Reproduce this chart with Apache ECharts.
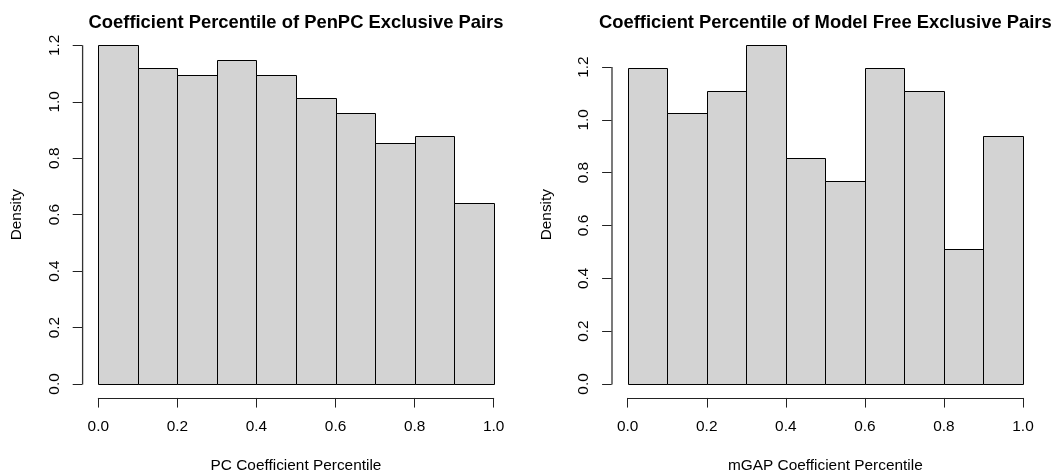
<!DOCTYPE html>
<html>
<head>
<meta charset="utf-8">
<script src="https://cdn.jsdelivr.net/npm/echarts@6/dist/echarts.min.js"></script>
<style>
html,body{margin:0;padding:0;background:#fff;}
#chart{width:1060px;height:473px;}
</style>
</head>
<body>
<div id="chart"></div>
<script>
// ---- data ----
const binEdges = [0.0, 0.1, 0.2, 0.3, 0.4, 0.5, 0.6, 0.7, 0.8, 0.9, 1.0];
const penpcDensity = [1.2, 1.12, 1.0933, 1.1467, 1.0933, 1.0133, 0.96, 0.8533, 0.88, 0.64];
const modelFreeDensity = [1.1966, 1.0256, 1.1111, 1.2821, 0.8547, 0.7692, 1.1966, 1.1111, 0.5128, 0.9402];
const xTicks = [0.0, 0.2, 0.4, 0.6, 0.8, 1.0];
const yTicks = [0.0, 0.2, 0.4, 0.6, 0.8, 1.0, 1.2];
const titles = ['Coefficient Percentile of PenPC Exclusive Pairs', 'Coefficient Percentile of Model Free Exclusive Pairs'];
const xLabels = ['PC Coefficient Percentile', 'mGAP Coefficient Percentile'];
const yLabel = 'Density';

// ---- layout ----
const W = 1060, H = 473;
const FONT = '"Liberation Sans", Arial, Helvetica, sans-serif';
const AXIS_COLOR = '#222222';
const plotTop = 31.8, plotBottom = 397.5;
const panels = [
  { x0: 98.3, x1: 493.7, plotLeft: 82.5, data: penpcDensity },
  { x0: 627.7, x1: 1023.0, plotLeft: 612.2, data: modelFreeDensity }
];

const grids = [], xAxes = [], yAxes = [], series = [], graphics = [];

panels.forEach((p, i) => {
  const ymax = Math.max(...p.data);
  const lo = -0.04 * ymax, hi = 1.04 * ymax;
  const ppu = (plotBottom - plotTop) / (hi - lo);
  const yZero = plotBottom + lo * ppu;
  const yLast = yTicks[yTicks.length - 1];
  const yOff = Math.round(p.x0 - p.plotLeft);
  const dataIdx = grids.length;
  // data grid
  grids.push({ left: p.x0, right: W - p.x1, top: yZero - ymax * ppu, bottom: H - yZero, containLabel: false });
  xAxes.push({ gridIndex: dataIdx, type: 'value', min: binEdges[0], max: binEdges[binEdges.length - 1], show: false });
  yAxes.push({ gridIndex: dataIdx, type: 'value', min: 0, max: ymax, show: false });
  // axis grid
  const axIdx = grids.length;
  grids.push({ left: p.x0, right: W - p.x1, top: yZero - yLast * ppu, bottom: H - yZero, containLabel: false });
  xAxes.push({
    gridIndex: axIdx, type: 'value', position: 'bottom',
    min: xTicks[0], max: xTicks[xTicks.length - 1], interval: xTicks[1] - xTicks[0],
    offset: Math.round(plotBottom - yZero),
    axisLine: { show: true, onZero: false, lineStyle: { color: AXIS_COLOR, width: 1 } },
    axisTick: { show: true, length: 9.6, lineStyle: { color: AXIS_COLOR, width: 1 } },
    axisLabel: { show: true, margin: 21, color: '#000', fontFamily: FONT, fontSize: 15.4, lineHeight: 16,
      formatter: v => v.toFixed(1), showMinLabel: true, showMaxLabel: true, hideOverlap: false },
    splitLine: { show: false }
  });
  yAxes.push({
    gridIndex: axIdx, type: 'value', position: 'left',
    min: yTicks[0], max: yLast, interval: yTicks[1] - yTicks[0],
    offset: yOff,
    axisLine: { show: false, onZero: false },
    axisTick: { show: true, length: 9.6, lineStyle: { color: AXIS_COLOR, width: 1 } },
    axisLabel: { show: true, rotate: 90, margin: 19.5, color: '#000', fontFamily: FONT, fontSize: 15.4, lineHeight: 16,
      formatter: v => v.toFixed(1), showMinLabel: true, showMaxLabel: true, hideOverlap: false },
    splitLine: { show: false }
  });

  const items = p.data.map((d, k) => [binEdges[k], binEdges[k + 1], d]);
  series.push({
    type: 'custom', xAxisIndex: dataIdx, yAxisIndex: dataIdx, data: items, silent: true,
    renderItem: (params, api) => {
      const a = api.coord([api.value(0), 0]);
      const b = api.coord([api.value(1), api.value(2)]);
      const xl = Math.round(a[0]) + 0.5, xr = Math.round(b[0]) + 0.5;
      const yt = Math.round(b[1]) + 0.5, yb = Math.round(a[1]) + 0.5;
      return { type: 'rect', shape: { x: xl, y: yt, width: xr - xl, height: yb - yt },
        style: { fill: '#d3d3d3', stroke: '#000', lineWidth: 1 } };
    }
  });
  // y axis line from the first to the last tick, using the axis scale, shifted by the axis offset
  series.push({
    type: 'custom', xAxisIndex: axIdx, yAxisIndex: axIdx, data: [[yTicks[0], yLast]], silent: true, clip: false, z: 10,
    renderItem: (params, api) => {
      const a = api.coord([xTicks[0], api.value(0)]);
      const b = api.coord([xTicks[0], api.value(1)]);
      const x = a[0] - yOff + 0.3;
      return { type: 'line', shape: { x1: x, y1: a[1] + 0.5, x2: x, y2: b[1] },
        style: { stroke: '#333333', lineWidth: 1.3 } };
    }
  });

  const cx = (p.x0 + p.x1) / 2;
  graphics.push({ type: 'text', x: cx, y: 22.6,
    style: { text: titles[i], font: 'bold 18.4px ' + FONT, fill: '#000', align: 'center', verticalAlign: 'middle' } });
  graphics.push({ type: 'text', x: cx, y: 465.5,
    style: { text: xLabels[i], font: '15.4px ' + FONT, fill: '#000', align: 'center', verticalAlign: 'middle' } });
  graphics.push({ type: 'text', x: p.plotLeft - 65.5, y: (plotTop + plotBottom) / 2, rotation: Math.PI / 2,
    style: { text: yLabel, font: '15.4px ' + FONT, fill: '#000', align: 'center', verticalAlign: 'middle' } });
});

const chart = echarts.init(document.getElementById('chart'), null, { renderer: 'canvas' });
chart.setOption({
  backgroundColor: '#fff',
  animation: false,
  grid: grids,
  xAxis: xAxes,
  yAxis: yAxes,
  series: series,
  graphic: graphics
});
</script>
</body>
</html>
